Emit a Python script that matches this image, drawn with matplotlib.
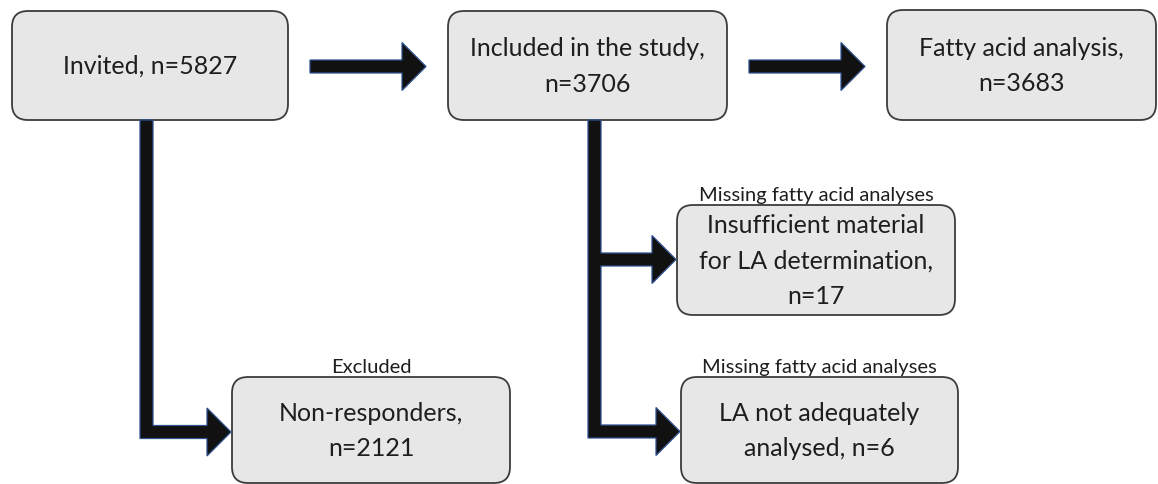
import matplotlib.pyplot as plt
from matplotlib.patches import FancyBboxPatch, Polygon

plt.rcParams['font.family'] = ['Lato', 'DejaVu Sans']

# box texts
box_names = ['invited', 'included', 'fatty', 'insufficient', 'la', 'nonresp']
box_texts = ['Invited, n=5827',
             'Included in the study,\nn=3706',
             'Fatty acid analysis,\nn=3683',
             'Insufficient material\nfor LA determination,\nn=17',
             'LA not adequately\nanalysed, n=6',
             'Non-responders,\nn=2121']
# small captions over some boxes
caption_boxes = ['nonresp', 'insufficient', 'la']
caption_texts = ['Excluded', 'Missing fatty acid analyses', 'Missing fatty acid analyses']

# layout in pixels (x0, y0, x1, y1), y measured from top
layout = {
    'invited': (12, 11, 288, 120),
    'included': (448, 11, 727, 120),
    'fatty': (887, 10, 1156, 120),
    'insufficient': (677, 205, 955, 315),
    'la': (681, 377, 958, 483),
    'nonresp': (232, 377, 510, 483),
}

W, H = 1158, 484
fig = plt.figure(figsize=(W / 100, H / 100), dpi=100)
ax = fig.add_axes([0, 0, 1, 1])
ax.set_xlim(0, W)
ax.set_ylim(H, 0)
ax.axis('off')

fill = '#e7e7e7'
edge = '#3c3c3c'
arrow_fill = '#111111'
arrow_edge = '#2f528f'
txt = '#1e1e1e'

for name, label in zip(box_names, box_texts):
    x0, y0, x1, y1 = layout[name]
    ax.add_patch(FancyBboxPatch((x0, y0), x1 - x0, y1 - y0,
                                boxstyle='round,pad=0,rounding_size=16',
                                fc=fill, ec=edge, lw=1.3))
    ax.text((x0 + x1) / 2, (y0 + y1) / 2 + 1, label, ha='center', va='center',
            fontsize=18, color=txt, linespacing=1.68)

for name, label in zip(caption_boxes, caption_texts):
    x0, y0, x1, y1 = layout[name]
    ax.text((x0 + x1) / 2, y0 - 4, label, ha='center', va='baseline',
            fontsize=14.5, color=txt)

half = 6.5     # half shaft thickness
head_h = 24    # half head height
head_l = 24    # head length


def head_pts(xh, yc, gap):
    # arrow head pointing right, tip at xh - gap
    tip = xh - gap
    return [(tip - head_l, yc - half), (tip - head_l, yc - head_h), (tip, yc),
            (tip - head_l, yc + head_h), (tip - head_l, yc + half)]


def straight(a, b):
    ya = (layout[a][1] + layout[a][3]) / 2 + 1
    x_start = layout[a][2] + 22
    pts = [(x_start, ya - half)] + head_pts(layout[b][0], ya, 22) + [(x_start, ya + half)]
    ax.add_patch(Polygon(pts, closed=True, fc=arrow_fill, ec=arrow_edge, lw=0.9))


def branch(src, targets, xc):
    top = layout[src][3]
    pts = [(xc - half, top), (xc + half, top)]
    for i, t in enumerate(targets):
        yc = (layout[t][1] + layout[t][3]) / 2 + (2 if i == len(targets) - 1 else -0.5)
        if t == 'la':
            yc = 431.5
        if t == 'nonresp':
            yc = 432
        hp = head_pts(layout[t][0], yc, 1)
        if i < len(targets) - 1:
            pts += [(xc + half, yc - half)] + hp + [(xc + half, yc + half)]
        else:
            pts += [(xc + half, yc - half)] + hp + [(xc - half, yc + half)]
    ax.add_patch(Polygon(pts, closed=True, fc=arrow_fill, ec=arrow_edge, lw=0.9))


straight('invited', 'included')
straight('included', 'fatty')
branch('invited', ['nonresp'], 146.5)
branch('included', ['insufficient', 'la'], 594.5)

fig.savefig('out.png', dpi=100, facecolor='white')
